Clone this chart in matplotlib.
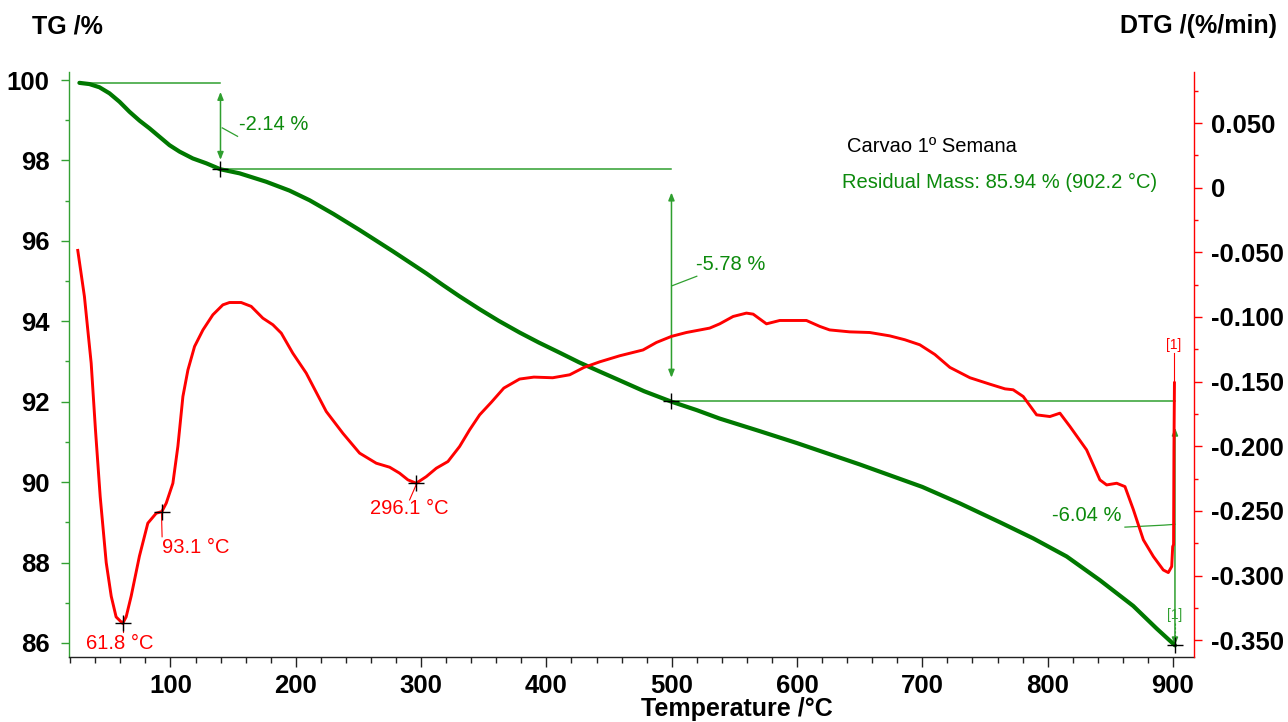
import matplotlib
matplotlib.use('Agg')
import matplotlib.pyplot as plt
from matplotlib.ticker import MultipleLocator, FuncFormatter, FixedLocator

plt.rcParams['font.family'] = ['Liberation Sans', 'DejaVu Sans']
plt.rcParams['font.weight'] = 'bold'

# ---------------- data ----------------
tg_T = [27.3, 35.3, 43.3, 51.3, 59.3, 67.3, 75.3, 83.2, 91.2, 99.2, 107.2, 117.8,
        128.5, 139.9, 155.1, 176.4, 195, 211, 230, 250.9, 277.5, 304.2, 317,
        330.7, 346.7, 362, 378.6, 394, 410.5, 426, 442.5, 458.5, 478, 499.8, 520,
        538.3, 570, 600, 650, 700, 730, 762, 788.5, 815.2, 841.7, 868.3, 886.9,
        901.6]
tg_val = [99.93, 99.90, 99.82, 99.67, 99.46, 99.21, 98.99, 98.80, 98.59, 98.38,
          98.22, 98.05, 97.93, 97.78, 97.68, 97.47, 97.25, 97.01, 96.67, 96.27,
          95.74, 95.19, 94.91, 94.62, 94.30, 94.01, 93.72, 93.47, 93.22, 92.98,
          92.75, 92.53, 92.26, 92.0, 91.79, 91.58, 91.27, 90.97, 90.44, 89.88,
          89.47, 89.0, 88.6, 88.15, 87.56, 86.92, 86.36, 85.94]

dtg_T = [26, 31.3, 34, 36.7, 40.1, 43.9, 48.7, 52.7, 56.6, 61.8, 64.6, 68.6, 75.2,
         81.9, 88.6, 93.1, 96.6, 101.9, 105.9, 109.9, 113.9, 119.2, 125.9, 133.8,
         141.8, 147.1, 156.4, 164.4, 173.7, 181.7, 188.4, 197.6, 208.3, 224.3,
         237.6, 250.9, 264.2, 274.9, 282.8, 289.5, 296.1, 304.1, 312.1, 321.4,
         330.7, 338.7, 346.7, 356, 366, 378.6, 390, 405, 418.6, 430, 442.5, 458.5,
         477.1, 487.8, 499.8, 511.7, 530.3, 538.3, 549, 559.6, 565, 575.6, 586.2,
         607.5, 618.2, 626, 642, 658, 674, 686, 698, 710, 722, 738, 754, 766,
         772.5, 780.5, 791.2, 801.8, 809.8, 817.8, 831.1, 841.7, 847.1, 855.1,
         861.7, 868.4, 876.4, 884.4, 892.3, 896.3, 899, 899.8, 900.5, 900.8, 901.2]
dtg_val = [-0.0485, -0.0841, -0.110, -0.1357, -0.187, -0.239, -0.290, -0.316,
           -0.332, -0.337, -0.332, -0.316, -0.285, -0.2595, -0.2518, -0.2505,
           -0.244, -0.2286, -0.200, -0.1615, -0.141, -0.1228, -0.110, -0.0983,
           -0.0906, -0.0888, -0.0888, -0.0918, -0.1009, -0.106, -0.1125, -0.128,
           -0.1434, -0.1731, -0.190, -0.2053, -0.2131, -0.2162, -0.2208, -0.226,
           -0.2286, -0.2235, -0.217, -0.2118, -0.2002, -0.1873, -0.1757, -0.166,
           -0.155, -0.148, -0.1465, -0.147, -0.1447, -0.139, -0.1347, -0.130,
           -0.1255, -0.1197, -0.115, -0.112, -0.1086, -0.1053, -0.0996, -0.097,
           -0.0978, -0.1053, -0.1027, -0.1027, -0.1073, -0.110, -0.1115, -0.112,
           -0.1146, -0.1176, -0.1215, -0.129, -0.139, -0.147, -0.152, -0.1556,
           -0.1563, -0.1615, -0.1757, -0.177, -0.1744, -0.1847, -0.2028, -0.226,
           -0.2299, -0.2286, -0.2312, -0.249, -0.2724, -0.2853, -0.2957, -0.2977,
           -0.293, -0.2776, -0.2760, -0.203, -0.151]

step_T = [27.3, 139.9, 499.8, 901.6]
step_level = [99.93, 97.79, 92.01, 85.94]
step_labels = ['-2.14 %', '-5.78 %', '-6.04 %']

peak_T = [61.8, 93.1, 296.1]
peak_dtg = [-0.337, -0.2505, -0.2286]
peak_labels = ['61.8 °C', '93.1 °C', '296.1 °C']

sample_name = 'Carvao 1º Semana'
residual_text = 'Residual Mass: 85.94 % (902.2 °C)'

x_ticks = [100, 200, 300, 400, 500, 600, 700, 800, 900]
tg_ticks = [86, 88, 90, 92, 94, 96, 98, 100]
dtg_ticks = [-0.35, -0.30, -0.25, -0.20, -0.15, -0.10, -0.05, 0.0, 0.05]

# ---------------- styling ----------------
GREEN_TG = '#007800'
GREEN_ANN = '#2f9f2f'
GREEN_TXT = '#0c8a0c'
RED = '#ff0000'

W, H = 1288, 722
fig = plt.figure(figsize=(W / 100, H / 100), dpi=100)
L, R, T_, B = 69, 1194, 72, 657
ax = fig.add_axes([L / W, 1 - B / H, (R - L) / W, (B - T_) / H])
ax2 = ax.twinx()

ax.set_xlim(19, 916.8)
ax.set_ylim(85.65, 100.2)
ax2.set_ylim(-0.363, 0.0895)

for s in ['top', 'right']:
    ax.spines[s].set_visible(False)
for s in ['top', 'left', 'bottom']:
    ax2.spines[s].set_visible(False)
ax.spines['left'].set_color('#33a033')
ax.spines['bottom'].set_color('#222222')
ax2.spines['right'].set_color(RED)
for sp in (ax.spines['left'], ax.spines['bottom'], ax2.spines['right']):
    sp.set_linewidth(1.0)

ax.xaxis.set_major_locator(FixedLocator(x_ticks))
ax.xaxis.set_minor_locator(MultipleLocator(20))
ax.yaxis.set_major_locator(FixedLocator(tg_ticks))
ax.yaxis.set_minor_locator(MultipleLocator(1))
ax2.yaxis.set_major_locator(FixedLocator(dtg_ticks))
ax2.yaxis.set_minor_locator(MultipleLocator(0.025))
ax2.yaxis.set_major_formatter(FuncFormatter(lambda v, p: '0' if abs(v) < 1e-9 else f'{v:.3f}'))

ax.tick_params(axis='x', which='major', length=7, width=1, color='#222222',
               labelsize=18.5, pad=5)
ax.tick_params(axis='x', which='minor', length=4, width=1, color='#222222')
ax.tick_params(axis='y', which='major', length=6, width=1, color='#33a033',
               labelsize=18.5, pad=8)
ax.tick_params(axis='y', which='minor', length=3, width=1, color='#33a033')
ax2.tick_params(axis='y', which='major', length=6, width=1, color=RED,
                labelsize=18.5, pad=6)
ax2.tick_params(axis='y', which='minor', length=3, width=1, color=RED)

# curves
ax.plot(tg_T, tg_val, color=GREEN_TG, lw=3.0, solid_capstyle='round',
        solid_joinstyle='round', zorder=3)
ax2.plot(dtg_T, dtg_val, color=RED, lw=2.1, solid_joinstyle='round', zorder=3)

# step annotations (TG)
shrinks = [(6.5, 6.5), (17, 17), (19, 0)]
for i in range(3):
    ax.plot([step_T[i], step_T[i + 1]], [step_level[i], step_level[i]],
            color=GREEN_ANN, lw=1.1, zorder=2)
    ax.annotate('', xy=(step_T[i + 1], step_level[i + 1]),
                xytext=(step_T[i + 1], step_level[i]),
                arrowprops=dict(arrowstyle='<|-|>,head_length=0.45,head_width=0.18',
                                color=GREEN_ANN, lw=1.1,
                                shrinkA=shrinks[i][0], shrinkB=shrinks[i][1]),
                zorder=2)
for t, lv in zip(step_T[1:], step_level[1:]):
    ax.plot(t, lv, marker='+', color='black', ms=11, mew=1.0, zorder=5)

# leader lines & labels for steps
ax.plot([141.3, 153.5], [98.81, 98.60], color=GREEN_ANN, lw=0.9)
ax.text(155, 98.9, step_labels[0], color=GREEN_TXT, fontsize=14.5,
        fontweight='normal', ha='left', va='center')
ax.plot([500, 520], [94.88, 95.12], color=GREEN_ANN, lw=0.9)
ax.text(519, 95.4, step_labels[1], color=GREEN_TXT, fontsize=14.5,
        fontweight='normal', ha='left', va='center')
ax.plot([861.7, 892.8, 901.6], [88.88, 88.93, 88.95], color=GREEN_ANN, lw=0.9)
ax.text(859, 89.18, step_labels[2], color=GREEN_TXT, fontsize=14.5,
        fontweight='normal', ha='right', va='center')

# [1] markers
ax.text(901.3, 86.7, '[1]', color=GREEN_ANN, fontsize=10, fontweight='normal',
        ha='center', va='center')
ax.plot([901.6, 901.6], [86.5, 85.97], color=GREEN_ANN, lw=0.8, ls=(0, (2, 1.5)))
ax2.text(900.6, -0.122, '[1]', color=RED, fontsize=10, fontweight='normal',
         ha='center', va='center')
ax2.plot([901.2, 901.2], [-0.151, -0.128], color=RED, lw=0.8)

# DTG peaks
for t, v in zip(peak_T, peak_dtg):
    ax2.plot(t, v, marker='+', color='black', ms=11, mew=1.0, zorder=5)
ax2.plot([61.8, 61.8], [-0.337, -0.344], color=RED, lw=0.8)
ax2.text(32.9, -0.3522, peak_labels[0], color=RED, fontsize=14.5,
         fontweight='normal', ha='left', va='center')
ax2.plot([92.8, 93.3], [-0.2515, -0.270], color=RED, lw=0.8)
ax2.text(93.6, -0.2786, peak_labels[1], color=RED, fontsize=14.5,
         fontweight='normal', ha='left', va='center')
ax2.plot([296.0, 290.8], [-0.2299, -0.2415], color=RED, lw=0.8)
ax2.text(258.9, -0.2485, peak_labels[2], color=RED, fontsize=14.5,
         fontweight='normal', ha='left', va='center')

# texts
fig.text(847 / W, 1 - 146 / H, sample_name, color='black', fontsize=14.5,
         fontweight='normal', ha='left', va='center')
fig.text(842 / W, 1 - 182 / H, residual_text, color=GREEN_TXT, fontsize=14.5,
         fontweight='normal', ha='left', va='center')

fig.text(32 / W, 1 - 26 / H, 'TG /%', fontsize=18, ha='left', va='center')
fig.text(1277 / W, 1 - 26 / H, 'DTG /(%/min)', fontsize=18, ha='right', va='center')
fig.text(737 / W, 1 - 709 / H, 'Temperature /°C', fontsize=18, ha='center', va='center')

fig.savefig('out.png', dpi=100)
